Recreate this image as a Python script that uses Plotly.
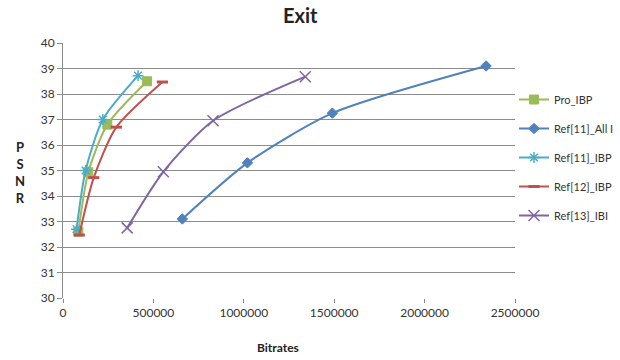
import plotly.graph_objects as go

series_names = ["Pro_IBP", "Ref[11]_All I", "Ref[11]_IBP", "Ref[12]_IBP", "Ref[13]_IBI"]

pro_ibp_x = [85000, 140000, 245000, 465000]
pro_ibp_y = [32.6, 34.93, 36.8, 38.5]

ref11_alli_x = [660000, 1020000, 1490000, 2340000]
ref11_alli_y = [33.1, 35.3, 37.25, 39.1]

ref11_ibp_x = [75000, 125000, 220000, 415000]
ref11_ibp_y = [32.7, 35.0, 37.0, 38.72]

ref12_ibp_x = [90000, 170000, 295000, 550000]
ref12_ibp_y = [32.47, 34.72, 36.7, 38.47]

ref13_ibi_x = [355000, 555000, 830000, 1340000]
ref13_ibi_y = [32.75, 34.95, 36.95, 38.68]

x_ticks = [0, 500000, 1000000, 1500000, 2000000, 2500000]
y_ticks = [30, 31, 32, 33, 34, 35, 36, 37, 38, 39, 40]

colors = ["#9BBB59", "#4F81BD", "#4BACC6", "#C0504D", "#8064A2"]
symbols = ["square", "diamond", "asterisk-open", "line-ew-open", "x-thin-open"]
sizes = [9, 8, 9, 8, 11]
mlw = [1, 1, 1.5, 3, 1.5]

data = [
    (pro_ibp_x, pro_ibp_y),
    (ref11_alli_x, ref11_alli_y),
    (ref11_ibp_x, ref11_ibp_y),
    (ref12_ibp_x, ref12_ibp_y),
    (ref13_ibi_x, ref13_ibi_y),
]

FONT = "Lato, 'Open Sans', sans-serif"

fig = go.Figure()
for i, (name, (xs, ys)) in enumerate(zip(series_names, data)):
    fig.add_trace(go.Scatter(
        x=xs, y=ys, name=name, mode="lines+markers",
        line=dict(color=colors[i], width=2, shape="spline", smoothing=0.7),
        marker=dict(symbol=symbols[i], size=sizes[i], color=colors[i],
                    line=dict(color=colors[i], width=mlw[i])),
        legendgroup=name,
    ))

fig.update_layout(
    width=620, height=360,
    margin=dict(l=63, r=105, t=43, b=62, autoexpand=False),
    paper_bgcolor="white", plot_bgcolor="white",
    font=dict(family=FONT, size=12, color="#333333"),
    showlegend=True,
    legend=dict(x=(514 - 63) / 452, y=(298 - 85) / 255, xanchor="left", yanchor="top",
                font=dict(family=FONT, size=11, color="#333333"),
                tracegroupgap=10, itemwidth=30, bgcolor="rgba(0,0,0,0)"),
    xaxis=dict(range=[0, 2500000], tickvals=x_ticks,
               ticktext=[str(v) for v in x_ticks],
               showgrid=False, zeroline=False, showline=False,
               ticks="outside", ticklen=4, tickcolor="#888888",
               tickfont=dict(size=12, color="#333333")),
    yaxis=dict(range=[30, 40], tickvals=y_ticks,
               showgrid=True, gridcolor="#8c8c8c", gridwidth=1,
               zeroline=False, showline=True, linecolor="#8c8c8c",
               ticks="outside", ticklen=5, tickcolor="#8c8c8c",
               tickfont=dict(size=12, color="#333333")),
    annotations=[
        dict(text="<b>Exit</b>", x=(300 - 63) / 452, y=(298 - 15) / 255,
             xref="paper", yref="paper", yanchor="middle",
             showarrow=False, font=dict(size=20, color="#222222", family=FONT)),
        dict(text="<b>Bitrates</b>", x=(278 - 63) / 452, y=-0.195, xref="paper", yref="paper",
             xanchor="center", yanchor="middle", showarrow=False,
             font=dict(size=12, color="#222222", family=FONT)),
        dict(text="<b>P<br>S<br>N<br>R</b>", x=(20 - 63) / 452, y=(298 - 172) / 255,
             xref="paper", yref="paper",
             xanchor="center", yanchor="middle", showarrow=False,
             font=dict(size=13, color="#222222", family=FONT)),
    ],
)

fig.write_html("out.html")
